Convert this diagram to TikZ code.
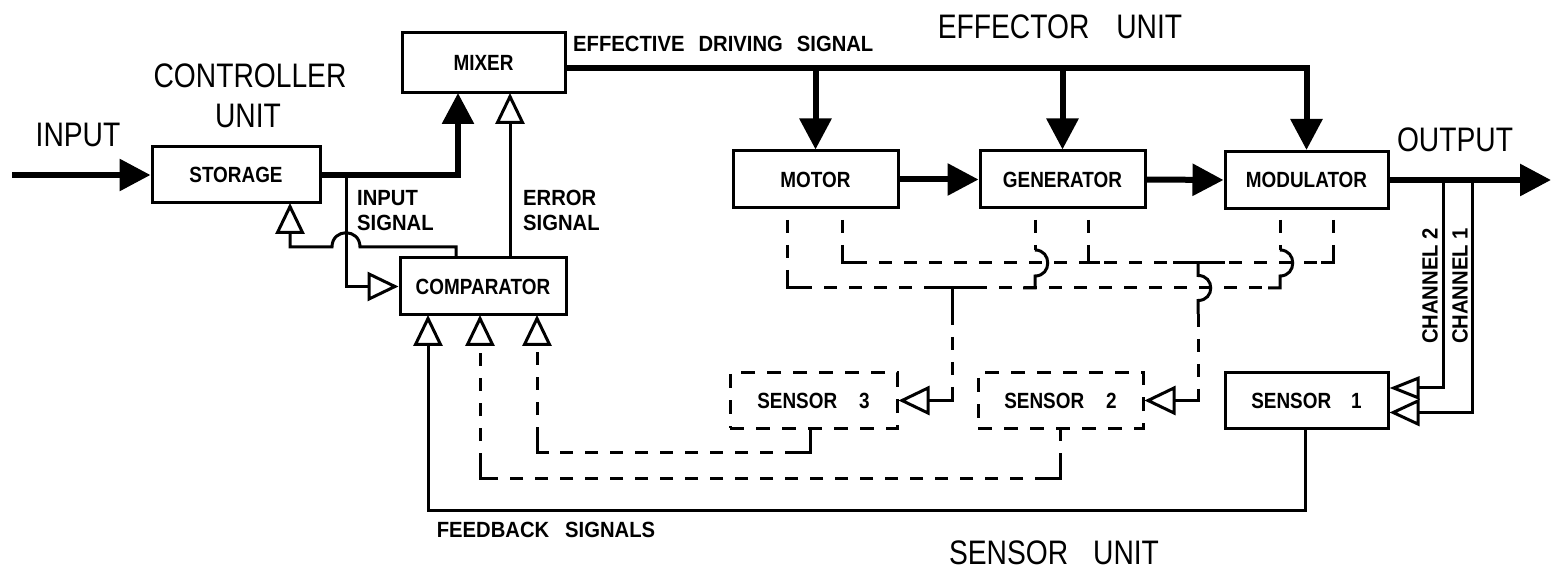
\documentclass[tikz,border=0pt]{standalone}
\usepackage{fontspec}
\setmainfont{Liberation Sans}
\newfontfamily\bigf[FakeStretch=0.83]{Liberation Sans}
\newfontfamily\boxf[FakeStretch=0.86]{Liberation Sans}
\newfontfamily\smf[FakeStretch=0.92]{Liberation Sans}
\usetikzlibrary{arrows.meta,calc}
\begin{document}
\begin{tikzpicture}[x=1pt,y=-1pt,
  box/.style={draw, line width=3pt, minimum width=165pt, minimum height=57pt, inner sep=0pt,
    font=\boxf\bfseries\fontsize{22}{24}\selectfont},
  dbox/.style={box, dash pattern=on 14pt off 12pt},
  big/.style={inner sep=0pt, font=\bigf\fontsize{34}{40}\selectfont},
  sml/.style={inner sep=0pt, font=\smf\bfseries\fontsize{22}{25}\selectfont},
  thk/.style={line width=6pt},
  thn/.style={line width=3pt},
  dsh/.style={line width=3pt, dash pattern=on 13pt off 12pt},
  fa/.style={-{Triangle[length=31pt,width=31pt]}},
  oa/.style={-{Triangle[open,length=31pt,width=29pt]}},
  oau/.style={-{Triangle[open,length=30pt,width=23pt]}},
  oal/.style={-{Triangle[open,length=30pt,width=27pt]}}
]
\fill[white] (0,0) rectangle (1551,569);
\useasboundingbox (0,0) rectangle (1551,569);

% ---------- blocks ----------
\node[box, minimum width=168pt, minimum height=56pt] (storage) at (236,175) {STORAGE};
\node[box, minimum width=163pt, minimum height=60pt] (mixer) at (483.5,63) {MIXER};
\node[box, minimum width=166pt, minimum height=57pt] (comp) at (483,286.5) {COMPARATOR};
\node[box] (motor) at (815.5,179.5) {MOTOR};
\node[box] (gen) at (1062.5,179.5) {GENERATOR};
\node[box, minimum width=163pt] (mod) at (1306.5,180) {MODULATOR};
\node[dbox, minimum width=167pt, minimum height=55pt] (s3) at (813.5,400.5) {SENSOR\hspace{22pt}3};
\node[dbox, minimum width=165pt, minimum height=55pt] (s2) at (1060.5,400.5) {SENSOR\hspace{22pt}2};
\node[box, minimum width=163pt, minimum height=55pt] (s1) at (1306.5,400.5) {SENSOR\hspace{20pt}1};

% ---------- labels ----------
\node[big] (tinput) at (78,135) {INPUT};
\node[big] (tctrl) at (250,76) {CONTROLLER};
\node[big] (tunit) at (248,116) {UNIT};
\node[big] (teff) at (1060,27) {EFFECTOR\hspace{27pt}UNIT};
\node[big] (tout) at (1455,140) {OUTPUT};
\node[big] (tsens) at (1054,553) {SENSOR\hspace{25pt}UNIT};
\node[sml, anchor=west] (tdrive) at (573,44) {EFFECTIVE\hspace{14pt}DRIVING\hspace{14pt}SIGNAL};
\node[sml, anchor=north west, align=left] (tis) at (357,190) {INPUT\\SIGNAL};
\node[sml, anchor=north west, align=left] (tes) at (523,190) {ERROR\\SIGNAL};
\node[sml] (tfb) at (546,530) {FEEDBACK\hspace{16pt}SIGNALS};
\node[sml, rotate=90] (tch2) at (1430,286) {CHANNEL 2};
\node[sml, rotate=90] (tch1) at (1460,286) {CHANNEL 1};

% ---------- coordinates ----------
\coordinate (inp) at (12,175);
\coordinate (mixin) at (458,93);
\coordinate (isig) at (346,175);
\coordinate (ct1) at (456,258);
\coordinate (ct2) at (510,258);
\coordinate (mb2) at (510,93);
\coordinate (sb) at (290,203);
\coordinate (mxo) at (565,68);
\coordinate (drc) at (1306.5,68);
\coordinate (outp) at (1551,180);
\coordinate (c2) at (1443,180);
\coordinate (c1) at (1472,180);
\coordinate (cb1) at (428,315);
\coordinate (cb2) at (480,315);
\coordinate (cb3) at (537,315);
\coordinate (s1o) at (1305,428);
\coordinate (s2o) at (1060,428);
\coordinate (s3o) at (810,428);
\coordinate (ml) at (787,220);
\coordinate (mr) at (842,220);
\coordinate (gl) at (1035,220);
\coordinate (gr) at (1088,220);
\coordinate (dl) at (1280,220);
\coordinate (dr) at (1333,220);

% ---------- controller unit ----------
\draw[thk, fa] (inp) -- (storage.west);
\draw[thk, fa] (storage.east) -| (mixin);
\draw[thn, oa] (isig) |- (comp.west);
\draw[thn, oa] (ct2) -- (mb2);
\draw[thn, oa] (ct1) -- (456,247) -- (360,247)
   .. controls (360,228) and (332,228) .. (332,247) -- (290,247) -- (sb);

% ---------- effector unit ----------
\draw[thk, fa, line join=miter] (mxo) -- (drc) -- (mod.north);
\draw[thk, fa] (motor.north |- mxo) -- (motor.north);
\draw[thk, fa] (gen.north |- mxo) -- (gen.north);
\draw[thk, fa] (motor.east) -- (gen.west);
\draw[thk, fa] (gen.east) -- (mod.west);
\draw[thk, fa] (mod.east) -- (outp);

% ---------- channels to sensor 1 ----------
\draw[thn, oau] (c2) |- ($(s1.east)+(0,-12.5)$);
\draw[thn, oal] (c1) |- ($(s1.east)+(0,12)$);

% ---------- sensor pick-off wiring ----------
% pins
\draw[dsh] (ml) -- (787,276);
\draw[dsh] (mr) -- (842,251);
\draw[dsh] (gl) -- (1035,250);
\draw[dsh] (gr) -- (1088,251);
\draw[dsh] (dl) -- (1280,250);
\draw[dsh] (dr) -- (1333,251);
% corners
\draw[thn] (787,276) |- (799,288);
\draw[thn] (842,251) |- (854,263);
\draw[thn] (1088,251) |- (1100,263);
\draw[thn] (1333,251) |- (1321,263);
\draw[thn] (1035,250) .. controls (1052,250) and (1052,276) .. (1035,276) |- (1023,288);
\draw[thn] (1280,250) .. controls (1297,250) and (1297,276) .. (1280,276) |- (1268,288);
% buses
\draw[dsh] (799,288) -- (1268,288);
\draw[dsh] (854,263) -- (1321,263);
% taps
\draw[thn] (925,288) -- (979,288);
\draw[thn] (952,288) -- (952,312);
\draw[dsh] (952,312) -- (952,389);
\draw[thn, oa] (952,389) |- (s3.east);
\draw[thn] (1173,263) -- (1225,263);
\draw[thn] (1198,263) -- (1198,275.5) .. controls (1215,275.5) and (1215,300.5) .. (1198,300.5) -- (1198,314);
\draw[dsh] (1198,314) -- (1198,389);
\draw[thn, oa] (1198,389) |- (s2.east);

% ---------- feedback signals ----------
\draw[thn, oa] (s1o) -- (1305,510) -| (cb1);
\draw[dsh] (s2o) -- (1060,466);
\draw[thn] (1060,466) |- (1048,478);
\draw[dsh] (1048,478) -- (492,478);
\draw[thn] (492,478) -| (480,466);
\draw[dsh, oa] (480,466) -- (cb2);
\draw[dsh] (s3o) -- (810,440);
\draw[thn] (810,440) |- (798,452);
\draw[dsh] (798,452) -- (549,452);
\draw[thn] (549,452) -| (537,440);
\draw[dsh, oa] (537,440) -- (cb3);
\end{tikzpicture}
\end{document}
